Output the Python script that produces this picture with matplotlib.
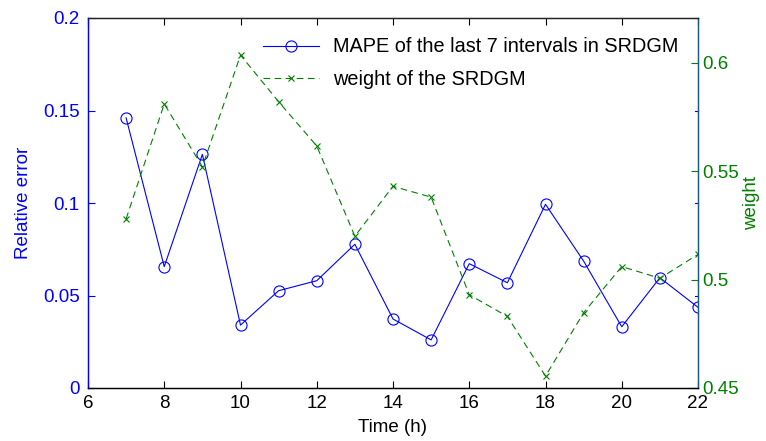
import matplotlib
matplotlib.use("Agg")
import matplotlib.pyplot as plt

plt.rcParams['font.family'] = ['Liberation Sans', 'DejaVu Sans']

hours = [7, 8, 9, 10, 11, 12, 13, 14, 15, 16, 17, 18, 19, 20, 21, 22]
mape = [0.146, 0.0656, 0.1263, 0.034, 0.0526, 0.058, 0.0777, 0.0373,
        0.026, 0.0672, 0.0569, 0.0993, 0.0686, 0.0331, 0.0596, 0.0436]
weight = [0.528, 0.581, 0.552, 0.6035, 0.582, 0.5616, 0.520, 0.543,
          0.538, 0.493, 0.483, 0.4555, 0.4847, 0.506, 0.5006, 0.5116]
xticks = [6, 8, 10, 12, 14, 16, 18, 20, 22]
left_ticks = [0, 0.05, 0.1, 0.15, 0.2]
left_ticklabels = ['0', '0.05', '0.1', '0.15', '0.2']
right_ticks = [0.45, 0.5, 0.55, 0.6]
right_ticklabels = ['0.45', '0.5', '0.55', '0.6']

BLUE = (0, 0, 1)
GREEN = (0, 0.5, 0)
FS = 13.5

fig = plt.figure(figsize=(7.66, 4.41), dpi=100)
ax = fig.add_axes([88/766, 1-388/441, (698-88)/766, (388-18)/441])
ax2 = ax.twinx()

l1, = ax.plot(hours, mape, '-o', color=BLUE, lw=0.8, markersize=8,
              markerfacecolor='none', markeredgewidth=0.8,
              label='MAPE of the last 7 intervals in SRDGM')
l2, = ax2.plot(hours, weight, '--x', color=GREEN, lw=0.8, markersize=5,
               markeredgewidth=0.8, dashes=(6, 4),
               label='weight of the SRDGM')

ax.set_xlim(6, 22)
ax.set_ylim(0, 0.2)
ax.set_xticks(xticks)
ax.set_xticklabels([str(t) for t in xticks], fontsize=FS)
ax.set_yticks(left_ticks)
ax.set_yticklabels(left_ticklabels, fontsize=FS, color=BLUE)
ax.tick_params(axis='x', direction='in', top=True, length=5, width=0.8, pad=5)
ax.tick_params(axis='y', direction='in', right=False, length=5, width=0.8,
               colors=BLUE, labelcolor=BLUE, pad=6)
ax.set_xlabel('Time (h)', fontsize=FS, labelpad=5)
ax.set_ylabel('Relative error', fontsize=FS, color=BLUE, labelpad=8)

ax2.set_ylim(0.45, 0.45 + 370/2168.7)
ax2.set_yticks(right_ticks)
ax2.set_yticklabels(right_ticklabels, fontsize=FS, color=GREEN)
ax2.tick_params(axis='y', direction='in', length=5, width=0.8,
                colors=GREEN, labelcolor=GREEN, pad=3)
ax2.set_ylabel('weight', fontsize=FS, color=GREEN, labelpad=3)

# mirrored left-axis ticks on right side
for t in left_ticks[1:-1]:
    ax.plot([22 - 0.09, 22], [t, t], color=BLUE, lw=0.8, clip_on=False)

for a in (ax, ax2):
    a.spines['left'].set_color(BLUE)
    a.spines['right'].set_color((0.1, 0.35, 0.5))
    a.spines['top'].set_color('#222222')
    a.spines['bottom'].set_color('black')
    for s in a.spines.values():
        s.set_linewidth(0.9)

leg = ax.legend(handles=[l1, l2], loc='upper right', frameon=False,
                fontsize=14.3, bbox_to_anchor=(0.99, 0.985), handlelength=2.8,
                handletextpad=0.7, borderaxespad=0.3, labelspacing=0.7)

fig.savefig('out.png', dpi=100)
